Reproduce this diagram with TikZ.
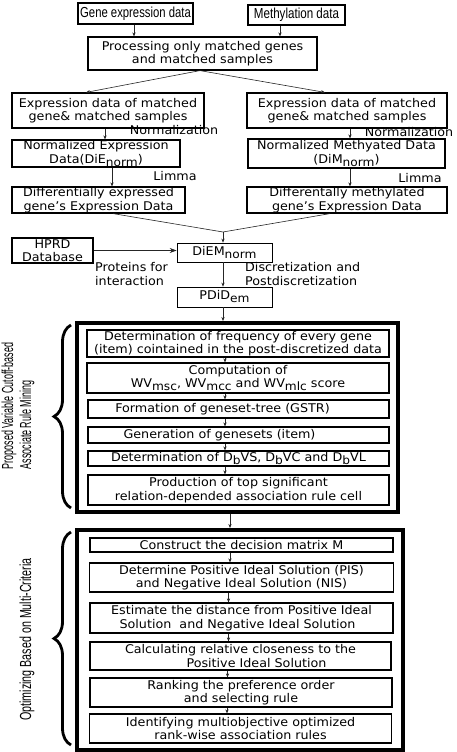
\documentclass[tikz,border=0pt]{standalone}
\usepackage{fontspec}
\usepackage{graphicx}
\setmainfont{DejaVu Sans}[FakeStretch=1.06]
\newfontfamily\narrowf{Liberation Sans}
\usetikzlibrary{arrows.meta,decorations.pathreplacing}
\newcommand{\sbs}[1]{\raisebox{-3pt}{\fontsize{11.5}{11.5}\selectfont #1}}
\newcommand{\nar}[2]{\scalebox{#1}[1]{#2}}
\tikzset{
  x=1pt,y=-1pt,
  box/.style={draw=black, line width=1.2pt, inner sep=0pt, align=center,
    font=\fontsize{12}{13.5}\selectfont},
  thinbox/.style={box, line width=0.7pt},
  topbox/.style={draw=black, line width=1.1pt, inner sep=0pt,
    font=\narrowf\fontsize{14.5}{16}\selectfont},
  bigbox/.style={draw=black, line width=4pt, inner sep=0pt},
  lbl/.style={inner sep=0pt, align=left, font=\fontsize{12}{13.5}\selectfont},
  sidelbl/.style={inner sep=0pt, align=left, rotate=90,
    font=\narrowf\fontsize{16}{18}\selectfont},
  conn/.style={draw=black!85, line width=0.6pt},
  arr/.style={conn, -{Stealth[length=4pt,width=3.2pt]}},
  bigarr/.style={conn, line width=0.8pt, -{Stealth[length=7pt,width=5pt]}},
  brc/.style={draw=black, line width=2.8pt, decorate,
    decoration={brace, amplitude=17pt, aspect=0.5}},
}
\begin{document}
\begin{tikzpicture}
\useasboundingbox (0,0) rectangle (457,752);
% top
\node[topbox, minimum width=115, minimum height=21] (gene) at (135.5,13.5) {\nar{0.78}{Gene expression data}};
\node[topbox, minimum width=97, minimum height=20] (meth) at (296.5,15) {\nar{0.8}{Methylation data}};
\node[box, minimum width=229, minimum height=33] (proc) at (202.5,53.5) {Processing only matched genes\\and matched samples};
% columns
\node[box, minimum width=192, minimum height=35] (le1) at (108,110.5) {Expression data of matched\\gene\& matched samples};
\node[box, minimum width=200, minimum height=35] (re1) at (347,110.5) {Expression data of matched\\gene\& matched samples};
\node[box, minimum width=168, minimum height=27] (le2) at (96,153.5) {Normalized Expression\\Data(DiE\sbs{norm})};
\node[box, minimum width=197, minimum height=29] (re2) at (346.5,153.5) {Normalized Methyated Data\\(DiM\sbs{norm})};
\node[box, minimum width=173, minimum height=26] (le3) at (98.5,200) {Differentially expressed\\gene's Expression Data};
\node[box, minimum width=200, minimum height=26] (re3) at (347,200) {Differentally methylated\\gene's Expression Data};
\node[lbl] (normL) at (174,130) {Normalization};
\node[lbl] (normR) at (409,132) {Normalization};
\node[lbl] (limL) at (175,176) {Limma};
\node[lbl] (limR) at (420,178) {Limma};
% middle
\node[box, minimum width=81, minimum height=25] (hprd) at (52.5,250.5) {HPRD\\Database};
\node[thinbox, minimum width=95, minimum height=19] (diem) at (224.5,252.5) {DiEM\sbs{norm}};
\node[thinbox, minimum width=95, minimum height=20] (pdid) at (224.5,297) {PDiD\sbs{em}};
\node[lbl, anchor=west] (prot) at (95,274) {Proteins for\\interaction};
\node[lbl, anchor=west] (disc) at (245,274) {Discretization and\\Postdiscretization};
\coordinate (join) at (223,232);
% big box 1
\node[bigbox, minimum width=321, minimum height=189] (big1) at (237.5,417.5) {};
\node[box, minimum width=302, minimum height=27] (a1) at (238,343.5) {Determination of frequency of every gene\\(item) cointained in the post-discretized data};
\node[box, minimum width=302, minimum height=30] (a2) at (238,378) {Computation of\\WV\sbs{msc}, WV\sbs{mcc} and WV\sbs{mlc} score};
\node[box, minimum width=301, minimum height=18] (a3) at (238.5,409) {Formation of geneset-tree (GSTR)\kern32pt};
\node[box, minimum width=301, minimum height=16] (a4) at (238.5,435) {Generation of genesets (item)\kern38pt};
\node[box, minimum width=301, minimum height=15] (a5) at (238.5,458.5) {Determination of D\sbs{b}VS, D\sbs{b}VC and D\sbs{b}VL};
\node[box, minimum width=301, minimum height=30] (a6) at (238.5,490) {Production of top significant\\relation-depended association rule cell};
% big box 2
\node[bigbox, minimum width=326, minimum height=220] (big2) at (240,640) {};
\node[box, minimum width=303, minimum height=14] (b1) at (241.5,545) {Construct the decision matrix M};
\node[box, minimum width=304, minimum height=29] (b2) at (241.5,577.5) {Determine Positive Ideal Solution (PIS)\\and Negative Ideal Solution (NIS)};
\node[box, minimum width=303, minimum height=30] (b3) at (241.5,618) {Estimate the distance from Positive Ideal\\Solution\ \ and Negative Ideal Solution\kern8pt};
\node[box, minimum width=301, minimum height=28] (b4) at (240.5,656) {Calculating relative closeness to the\\\hspace*{32pt}Positive Ideal Solution};
\node[box, minimum width=302, minimum height=29] (b5) at (241,692.5) {Ranking the preference order\\and selecting rule};
\node[box, minimum width=302, minimum height=29] (b6) at (240.5,728.5) {Identifying multiobjective optimized\\rank-wise association rules};
% side labels
\node[sidelbl] (rot1) at (18,406) {\nar{0.56}{Proposed Variable Cutoff-based}\\\nar{0.56}{Associate Rule Mining}};
\node[sidelbl] (rot2) at (27,639.5) {\nar{0.67}{Optimizing Based on Multi-Criteria}};
\draw[brc] (71,508) -- (71,325);
\draw[brc] (71,745) -- (71,532);
% connectors
\draw[arr] ([xshift=-1.5pt]gene.south) -- ([xshift=-1.5pt]gene.south |- proc.north);
\draw[arr] ([xshift=-16.5pt]meth.south) -- ([xshift=-16.5pt]meth.south |- proc.north);
\draw[arr] ([xshift=-2.5pt]proc.south) -- ([xshift=-22pt]le1.north);
\draw[arr] ([xshift=-2.5pt]proc.south) -- ([xshift=-22pt]re1.north);
\draw[arr] ([xshift=-3pt]le1.south) -- ([xshift=-3pt]le1.south |- le2.north);
\draw[arr] ([xshift=3pt]re1.south) -- ([xshift=3pt]re1.south |- re2.north);
\draw[arr] ([xshift=16pt]le2.south) -- ([xshift=16pt]le2.south |- le3.north);
\draw[arr] ([xshift=3.5pt]re2.south) -- ([xshift=3.5pt]re2.south |- re3.north);
\draw[conn] ([xshift=14.5pt]le3.south) -- (join);
\draw[conn] ([xshift=-17pt]re3.south) -- (join);
\draw[arr] (join) -- (join |- diem.north);
\draw[bigarr] (hprd.east) -- (hprd.east -| diem.west);
\draw[arr] ([xshift=-1.5pt]diem.south) -- ([xshift=-1.5pt]diem.south |- pdid.north);
\draw[arr] ([xshift=-1.5pt]pdid.south) -- ([xshift=-1.5pt]pdid.south |- big1.north);
\draw[arr] ([xshift=-7.5pt]big1.south) -- ([xshift=-7.5pt]big1.south |- big2.north);
\draw[arr] ([xshift=-13pt]a1.south) -- ([xshift=-13pt]a1.south |- a2.north);
\draw[arr] ([xshift=-13pt]a2.south) -- ([xshift=-13pt]a2.south |- a3.north);
\draw[arr] ([xshift=-13.5pt]a3.south) -- ([xshift=-13.5pt]a3.south |- a4.north);
\draw[arr] ([xshift=-13.5pt]a4.south) -- ([xshift=-13.5pt]a4.south |- a5.north);
\draw[arr] ([xshift=-13.5pt]a5.south) -- ([xshift=-13.5pt]a5.south |- a6.north);
\draw[arr] ([xshift=-11.5pt]b1.south) -- ([xshift=-11.5pt]b1.south |- b2.north);
\draw[arr] ([xshift=-13pt]b2.south) -- ([xshift=-13pt]b2.south |- b3.north);
\draw[arr] ([xshift=-13pt]b3.south) -- ([xshift=-13pt]b3.south |- b4.north);
\draw[arr] ([xshift=-13pt]b4.south) -- ([xshift=-13pt]b4.south |- b5.north);
\draw[arr] ([xshift=-14pt]b5.south) -- ([xshift=-14pt]b5.south |- b6.north);
\end{tikzpicture}
\end{document}
